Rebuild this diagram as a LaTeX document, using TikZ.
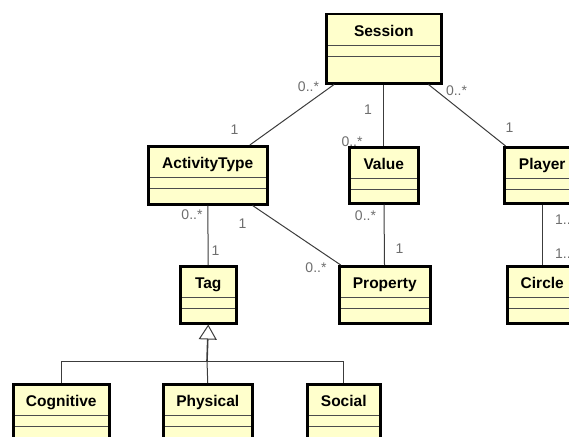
\documentclass[tikz,border=0pt]{standalone}
\usepackage{fontspec}
\usepackage{tikz}
\usetikzlibrary{arrows.meta}
\newfontfamily\umlfont{Liberation Sans}
\definecolor{classfill}{HTML}{FFFFCC}
\definecolor{assocline}{HTML}{3C3C3C}
\definecolor{multgray}{HTML}{6E6E6E}

\begin{document}
\begin{tikzpicture}[x=1pt, y=-1pt,
    umlclass/.style={draw, line width=2.5pt, fill=classfill, inner sep=0pt, anchor=north west,
                     font=\umlfont\bfseries\fontsize{15.5}{18}\selectfont, text height=22.5pt,
                     path picture={\draw[line width=1pt, black!70]
                       ([yshift=-31.5pt]path picture bounding box.north west) -- ([yshift=-31.5pt]path picture bounding box.north east)
                       ([yshift=-42.5pt]path picture bounding box.north west) -- ([yshift=-42.5pt]path picture bounding box.north east);}},
    mult/.style    ={font=\umlfont\fontsize{14}{16}\selectfont, text=multgray, inner sep=0pt},
    assoc/.style   ={draw=assocline, line width=1pt},
    inherit/.style ={assoc, -{Triangle[open, length=15pt, width=18pt, line width=1pt]}}
]
    \useasboundingbox (0,0) rectangle (569,436);
    \clip (0,0) rectangle (569,436);

    % multiplicities (under the boxes)
    \node[mult] (m-sess-at)   at (308.5,87)  {0..*};
    \node[mult] (m-at-sess)   at (234.5,130) {1};
    \node[mult] (m-sess-val)  at (368,110)   {1};
    \node[mult] (m-val-sess)  at (352,141.5) {0..*};
    \node[mult] (m-sess-pl)   at (456.5,91)  {0..*};
    \node[mult] (m-pl-sess)   at (509.5,127.5) {1};
    \node[mult] (m-at-tag)    at (192,215)   {0..*};
    \node[mult] (m-tag-at)    at (215.5,251) {1};
    \node[mult] (m-at-prop)   at (242.5,224) {1};
    \node[mult] (m-prop-at)   at (316,267.5) {0..*};
    \node[mult] (m-val-prop)  at (365.5,216) {0..*};
    \node[mult] (m-prop-val)  at (399.5,249) {1};
    \node[mult, anchor=west] (m-pl-ci) at (555,220) {1..*};
    \node[mult, anchor=west] (m-ci-pl) at (555,254) {1..*};

    % classes
    \node[umlclass, minimum width=115pt, text depth=46.5pt] (session)   at (325,13)  {Session};
    \node[umlclass, minimum width=119pt, text depth=35.5pt] (atype)     at (147,145) {ActivityType};
    \node[umlclass, minimum width=69pt,  text depth=33.5pt] (value)     at (348,146) {Value};
    \node[umlclass, minimum width=76pt,  text depth=33.5pt] (player)    at (503,146) {Player};
    \node[umlclass, minimum width=56pt,  text depth=34.5pt] (tag)       at (179,265) {Tag};
    \node[umlclass, minimum width=91pt,  text depth=34.5pt] (property)  at (338,265) {Property};
    \node[umlclass, minimum width=70pt,  text depth=34.5pt] (circle)    at (506,265) {Circle};
    \node[umlclass, minimum width=96pt,  text depth=34.5pt] (cognitive) at (12,383)  {Cognitive};
    \node[umlclass, minimum width=89pt,  text depth=34.5pt] (physical)  at (162,383) {Physical};
    \node[umlclass, minimum width=73pt,  text depth=34.5pt] (social)    at (306,383) {Social};

    % associations
    \draw[assoc] (session) -- (atype);
    \draw[assoc] (session) -- (value);
    \draw[assoc] (session) -- (player);
    \draw[assoc] (atype)   -- (tag);
    \draw[assoc] (atype)   -- (property);
    \draw[assoc] (value)   -- (property);
    \draw[assoc] (player)  -- (circle);

    % generalization
    \coordinate (genbar) at (207,361);
    \draw[inherit, line width=1.6pt] (genbar) -- (tag.south);
    \draw[assoc] (cognitive.north) |- (genbar);
    \draw[assoc] (social.north)    |- (genbar);
    \draw[assoc] (physical.north)  -- (genbar);

\end{tikzpicture}
\end{document}
